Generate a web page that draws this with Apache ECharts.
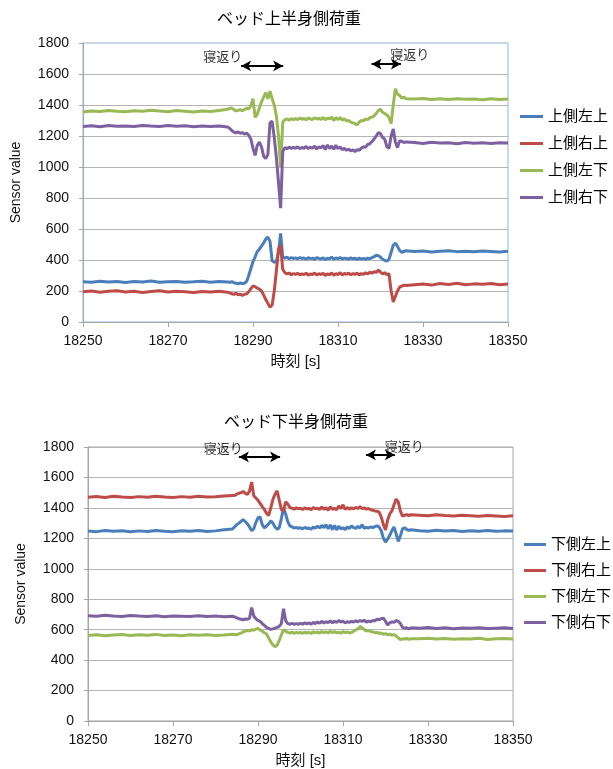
<!DOCTYPE html>
<html><head><meta charset="utf-8">
<script src="https://cdn.jsdelivr.net/npm/echarts@6/dist/echarts.min.js"></script>
<style>html,body{margin:0;padding:0;background:#fff}#c{width:613px;height:769px}</style>
</head><body><div id="c"></div>
<script>
// time stamps [s]
const times = [
18250,18252,18254,18256,18258,18260,18262,18264,18266,18268,18270,18272,18274,18276,18278,18280,18282,18284,
18284.5,18285,18285.5,18286,18286.5,18287,18287.5,18288,18288.5,18289,18289.5,18290,18290.5,18291,18291.5,18292,18292.5,18293,18293.5,18294,18294.5,18295,18295.5,18296,18296.5,18297,18297.5,18298,18298.5,18299,18299.5,
18300,18300.5,18301,18301.5,18302,18302.5,18303,18303.5,18304,18304.5,18305,18305.5,18306,18306.5,18307,18307.5,18308,18308.5,18309,18309.5,18310,18310.5,18311,18311.5,18312,18312.5,18313,18313.5,18314,18314.5,18315,18315.5,18316,18316.5,18317,18317.5,18318,18318.5,18319,18319.5,18320,18320.5,18321,18321.5,18322,18322.5,18323,18323.5,18324,18324.5,18325,18325.5,18326,
18328,18330,18332,18334,18336,18338,18340,18342,18344,18346,18348,18350];

const xTicks = [18250,18270,18290,18310,18330,18350];
const topTitle = 'ベッド上半身側荷重';
const botTitle = 'ベッド下半身側荷重';
const topNames = ['上側左上','上側右上','上側左下','上側右下'];
const botNames = ['下側左上','下側右上','下側左下','下側右下'];
const turnLabel = '寝返り';

// upper-body side
const topBlue = [
260,256,263,258,262,255,261,258,264,257,260,262,256,259,263,257,261,258,
256,260,254,250,246,252,248,250,262,300,345,390,420,455,470,490,510,535,548,520,395,385,392,450,572,420,412,418,408,415,410,
414,408,416,410,413,405,415,409,412,404,416,410,407,414,402,412,408,418,405,413,409,416,406,412,410,405,414,408,411,404,412,406,410,404,412,408,415,422,430,428,418,405,398,392,405,450,495,510,488,462,450,455,460,
455,458,452,456,460,454,457,453,458,455,452,456];
const topRed = [
195,200,192,198,202,194,199,191,197,201,193,198,195,190,197,193,199,192,
188,182,178,185,176,180,172,178,182,195,215,232,228,218,212,200,175,145,120,95,110,200,330,470,495,340,318,310,316,305,312,
308,314,304,311,306,315,302,310,307,316,303,312,306,314,300,310,305,316,302,312,306,318,304,313,308,315,305,312,307,316,304,312,308,318,310,322,315,325,320,335,322,310,318,305,312,200,130,165,200,225,232,238,235,
240,245,238,248,242,250,240,246,243,249,241,245];
const topGreen = [
1355,1362,1358,1365,1360,1356,1363,1359,1366,1361,1357,1364,1360,1355,1362,1358,1365,1372,
1378,1380,1370,1362,1365,1370,1362,1372,1378,1375,1395,1440,1320,1340,1380,1420,1450,1480,1440,1490,1440,1400,1330,1200,1000,1290,1305,1310,1302,1312,1306,
1312,1306,1315,1308,1313,1305,1316,1310,1307,1318,1309,1314,1306,1320,1304,1316,1310,1322,1300,1318,1305,1320,1302,1312,1296,1300,1290,1285,1280,1272,1290,1300,1298,1310,1306,1318,1322,1330,1345,1365,1372,1352,1345,1335,1320,1280,1400,1505,1470,1462,1445,1450,1440,
1438,1442,1436,1440,1435,1441,1437,1439,1434,1440,1436,1438];
const topPurple = [
1262,1266,1260,1268,1263,1265,1261,1267,1264,1262,1268,1263,1266,1260,1265,1262,1264,1258,
1250,1235,1225,1220,1226,1218,1222,1212,1218,1205,1180,1120,1075,1140,1160,1130,1070,1055,1080,1285,1295,1190,1060,900,735,1100,1125,1118,1128,1120,1126,
1122,1130,1118,1126,1121,1132,1119,1127,1122,1135,1116,1130,1124,1138,1112,1142,1120,1135,1115,1140,1118,1130,1112,1120,1108,1115,1104,1110,1100,1112,1108,1122,1130,1128,1145,1150,1165,1180,1200,1222,1215,1190,1180,1130,1120,1200,1245,1160,1125,1170,1165,1158,1162,
1158,1152,1160,1155,1157,1150,1158,1154,1156,1152,1157,1155];

// lower-body side
const botBlue = [
1248,1244,1252,1246,1250,1243,1249,1245,1251,1247,1244,1250,1246,1252,1245,1249,1256,1262,
1275,1290,1300,1312,1322,1310,1295,1275,1250,1262,1305,1335,1340,1290,1268,1280,1295,1315,1300,1275,1260,1270,1330,1400,1360,1310,1282,1275,1268,1272,1265,
1270,1262,1272,1265,1268,1260,1274,1266,1280,1268,1285,1270,1290,1262,1288,1258,1285,1255,1280,1262,1270,1258,1275,1265,1282,1270,1265,1278,1268,1290,1266,1272,1268,1275,1270,1278,1282,1275,1250,1200,1175,1195,1220,1250,1275,1230,1180,1215,1262,1270,1258,1252,1256,
1250,1246,1253,1248,1251,1245,1250,1247,1252,1246,1249,1248];
const botRed = [
1470,1475,1468,1476,1472,1469,1474,1470,1477,1471,1468,1474,1470,1476,1471,1473,1478,1482,
1482,1490,1496,1500,1508,1495,1488,1510,1570,1480,1465,1450,1430,1408,1390,1365,1350,1400,1455,1490,1512,1450,1390,1378,1440,1425,1402,1398,1392,1400,1395,
1398,1390,1400,1393,1397,1388,1402,1394,1398,1390,1405,1392,1400,1385,1408,1390,1398,1388,1412,1395,1420,1390,1402,1392,1400,1394,1403,1396,1408,1395,1400,1392,1396,1388,1385,1380,1378,1372,1340,1290,1255,1320,1360,1380,1420,1458,1440,1380,1345,1352,1356,1350,1355,
1352,1348,1355,1350,1346,1352,1349,1345,1350,1347,1344,1348];
const botGreen = [
562,567,560,565,568,561,566,563,569,562,565,560,566,563,567,561,565,570,
568,566,572,578,585,590,595,592,600,596,603,608,598,590,580,572,545,520,500,488,498,530,565,600,590,582,578,584,576,582,578,
582,576,584,578,583,575,586,579,585,577,588,580,586,578,590,581,587,579,584,576,588,580,585,578,582,590,598,605,620,612,600,592,594,588,585,580,582,576,578,570,574,568,570,565,567,560,545,535,540,538,542,536,540,
540,544,538,542,537,541,539,543,536,540,542,538];
const botPurple = [
692,688,695,690,686,693,689,687,692,685,690,688,686,691,687,690,685,688,
684,678,672,668,665,670,668,675,745,690,672,660,655,640,628,615,608,602,605,610,615,622,640,738,660,640,636,642,635,640,636,
642,636,645,638,644,636,648,640,650,642,655,644,652,646,658,645,655,648,660,650,656,645,652,648,655,650,658,652,660,654,662,650,656,652,660,658,668,665,672,676,655,630,645,652,648,660,655,640,615,610,612,606,612,
610,614,608,612,606,611,609,613,607,610,612,608];

// annotation anchors in data space: [x, y] and arrows [x1, x2, y]
const topNotes = [[18282.9,1710],[18326.9,1722]];
const topArrows = [[18287.2,18297.1,1652],[18317.9,18324.8,1664]];
const botNotes = [[18281.8,1782],[18324.4,1800]];
const botArrows = [[18285.5,18295.2,1735],[18315.4,18322.2,1748]];

const colors = ['#4A7EBB','#BE4B48','#98B954','#7D60A0'];
const FONT = "'Liberation Sans','Noto Sans CJK JP',sans-serif";
const GRAY = '#a6a6a6';

function lineSeries(name, vals, idx, color){
  return {type:'line', name, xAxisIndex:idx, yAxisIndex:idx,
    data: times.map((t,i)=>[t, vals[i]]),
    symbol:'none', showSymbol:false, lineStyle:{width:3,color}, itemStyle:{color},
    emphasis:{disabled:true}, animation:false, z:3};
}
function noteSeries(idx, notes, arrows){
  return {type:'scatter', xAxisIndex:idx, yAxisIndex:idx, data:notes, symbolSize:0.1,
    itemStyle:{color:'rgba(0,0,0,0)'}, silent:true, animation:false, z:5,
    label:{show:true, position:'inside', formatter:turnLabel, fontSize:13, color:'#000', fontFamily:FONT},
    markLine:{silent:true, animation:false, symbol:['arrow','arrow'], symbolSize:[8,10],
      lineStyle:{color:'#000', width:2, type:'solid'}, label:{show:false},
      data: arrows.map(a=>[{coord:[a[0],a[2]]},{coord:[a[1],a[2]]}])}};
}
const plain = v => String(v);
function xAxis(idx){
  return {gridIndex:idx, type:'value', min:18250, max:18350, interval:20,
    axisLine:{show:true, lineStyle:{color:GRAY}},
    axisTick:{show:true, length:5, customValues:xTicks, lineStyle:{color:GRAY}},
    axisLabel:{customValues:xTicks, formatter:plain, fontSize:14, color:'#111', margin:12, fontFamily:FONT},
    splitLine:{show:false},
    name:'時刻 [s]', nameLocation:'middle', nameGap:32,
    nameTextStyle:{fontSize:15, color:'#111', fontFamily:FONT}};
}
function yAxis(idx){
  return {gridIndex:idx, type:'value', min:0, max:1800, interval:200,
    axisLine:{show:true, lineStyle:{color:GRAY}},
    axisTick:{show:true, length:4, lineStyle:{color:GRAY}},
    axisLabel:{formatter:plain, fontSize:14, color:'#111', margin:14, fontFamily:FONT},
    splitLine:{show:true, showMaxLine: idx===1, lineStyle:{color:'#b4b4b4'}},
    name:'Sensor value', nameLocation:'middle', nameGap:60,
    nameTextStyle:{fontSize:14, color:'#111', fontFamily:FONT}};
}

const chart = echarts.init(document.getElementById('c'), null, {renderer:'canvas'});
chart.setOption({
  animation:false,
  backgroundColor:'#fff',
  textStyle:{fontFamily:FONT},
  title:[
    {text:topTitle, left:284, top:7, textAlign:'center', textStyle:{fontSize:16, fontWeight:'normal', color:'#000', fontFamily:FONT}},
    {text:botTitle, left:291, top:410, textAlign:'center', textStyle:{fontSize:16, fontWeight:'normal', color:'#000', fontFamily:FONT}}
  ],
  grid:[
    {left:83, top:43, width:425, height:279, show:true, borderColor:'#8db4e2', borderWidth:1, backgroundColor:'transparent'},
    {left:88, top:447, width:425, height:276, show:true, borderColor:GRAY, borderWidth:1, backgroundColor:'transparent'}
  ],
  legend:[
    {orient:'vertical', left:515, top:104, itemWidth:23, itemHeight:3, itemGap:12, icon:'rect', selectedMode:false,
     data:topNames, textStyle:{fontSize:15, color:'#000', fontFamily:FONT}},
    {orient:'vertical', left:519, top:532, itemWidth:22, itemHeight:3, itemGap:11, icon:'rect', selectedMode:false,
     data:botNames, textStyle:{fontSize:15, color:'#000', fontFamily:FONT}}
  ],
  xAxis:[xAxis(0), xAxis(1)],
  yAxis:[yAxis(0), yAxis(1)],
  series:[
    lineSeries(topNames[0], topBlue, 0, colors[0]),
    lineSeries(topNames[1], topRed, 0, colors[1]),
    lineSeries(topNames[2], topGreen, 0, colors[2]),
    lineSeries(topNames[3], topPurple, 0, colors[3]),
    lineSeries(botNames[0], botBlue, 1, colors[0]),
    lineSeries(botNames[1], botRed, 1, colors[1]),
    lineSeries(botNames[2], botGreen, 1, colors[2]),
    lineSeries(botNames[3], botPurple, 1, colors[3]),
    noteSeries(0, topNotes, topArrows),
    noteSeries(1, botNotes, botArrows)
  ]
});
</script></body></html>
